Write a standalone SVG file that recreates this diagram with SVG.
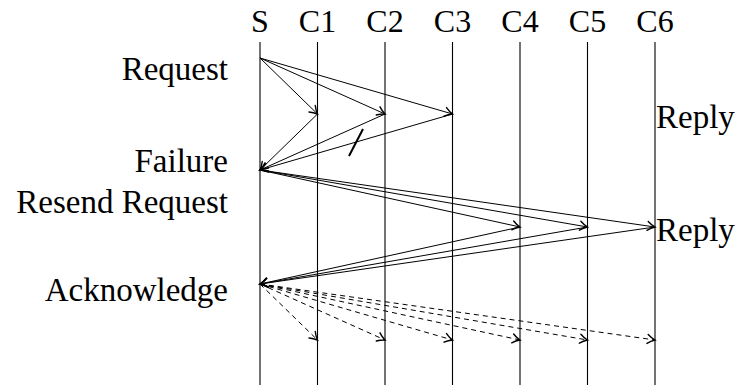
<svg xmlns="http://www.w3.org/2000/svg" width="735" height="385" viewBox="0 0 735 385">
<style>
text{font-family:"Liberation Serif","DejaVu Serif",serif;font-size:32px;fill:#000}
.hd{text-anchor:middle}
.lb{text-anchor:end;font-size:33px}
.rp{font-size:33px}
.life{stroke:#000;stroke-width:1.1;fill:none}
.msg{stroke:#000;stroke-width:1;fill:none;marker-end:url(#arr)}
.ack{stroke:#000;stroke-width:1;fill:none;stroke-dasharray:5 4;marker-end:url(#arr)}
</style>
<defs>
<marker id="arr" markerUnits="userSpaceOnUse" markerWidth="12" markerHeight="12" viewBox="-9 -6 12 12" refX="0" refY="0" orient="auto" overflow="visible">
<path d="M-7.5,-4.5 C-4.5,-2 -1.5,-0.6 0,0 C-1.5,0.6 -4.5,2 -7.5,4.5" fill="none" stroke="#000" stroke-width="1.4" stroke-linecap="round"/>
</marker>
</defs>
<g id="S"><text class="hd" x="260" y="32">S</text><line class="life" x1="260" y1="42" x2="260" y2="385"/></g>
<g id="C1"><text class="hd" x="317.5" y="32">C1</text><line class="life" x1="317.5" y1="42" x2="317.5" y2="385"/></g>
<g id="C2"><text class="hd" x="385" y="32">C2</text><line class="life" x1="385" y1="42" x2="385" y2="385"/></g>
<g id="C3"><text class="hd" x="452.5" y="32">C3</text><line class="life" x1="452.5" y1="42" x2="452.5" y2="385"/></g>
<g id="C4"><text class="hd" x="520" y="32">C4</text><line class="life" x1="520" y1="42" x2="520" y2="385"/></g>
<g id="C5"><text class="hd" x="587.5" y="32">C5</text><line class="life" x1="587.5" y1="42" x2="587.5" y2="385"/></g>
<g id="C6"><text class="hd" x="655" y="32">C6</text><line class="life" x1="655" y1="42" x2="655" y2="385"/></g>
<g id="labels">
<text class="lb" x="228" y="80">Request</text>
<text class="lb" x="228" y="172">Failure</text>
<text class="lb" x="228" y="213">Resend Request</text>
<text class="lb" x="228" y="301">Acknowledge</text>
<text class="rp" x="656" y="128">Reply</text>
<text class="rp" x="656" y="241">Reply</text>
</g>
<g id="connectors">
<line class="msg" x1="260" y1="58" x2="317.5" y2="114"/>
<line class="msg" x1="260" y1="58" x2="385" y2="114"/>
<line class="msg" x1="260" y1="58" x2="452.5" y2="114"/>
<line class="msg" x1="317.5" y1="114" x2="260" y2="170"/>
<line class="msg" x1="385" y1="114" x2="260" y2="170"/>
<line class="msg" x1="452.5" y1="114" x2="260" y2="170"/>
<line x1="363" y1="129" x2="349" y2="156" stroke="#000" stroke-width="2"/>
<line class="msg" x1="260" y1="170" x2="520" y2="227"/>
<line class="msg" x1="260" y1="170" x2="587.5" y2="227"/>
<line class="msg" x1="260" y1="170" x2="655" y2="227"/>
<line class="msg" x1="520" y1="227" x2="260" y2="284"/>
<line class="msg" x1="587.5" y1="227" x2="260" y2="284"/>
<line class="msg" x1="655" y1="227" x2="260" y2="284"/>
<line class="ack" x1="260" y1="284" x2="317.5" y2="340"/>
<line class="ack" x1="260" y1="284" x2="385" y2="340"/>
<line class="ack" x1="260" y1="284" x2="452.5" y2="340"/>
<line class="ack" x1="260" y1="284" x2="520" y2="340"/>
<line class="ack" x1="260" y1="284" x2="587.5" y2="340"/>
<line class="ack" x1="260" y1="284" x2="655" y2="340"/>
</g>
</svg>
